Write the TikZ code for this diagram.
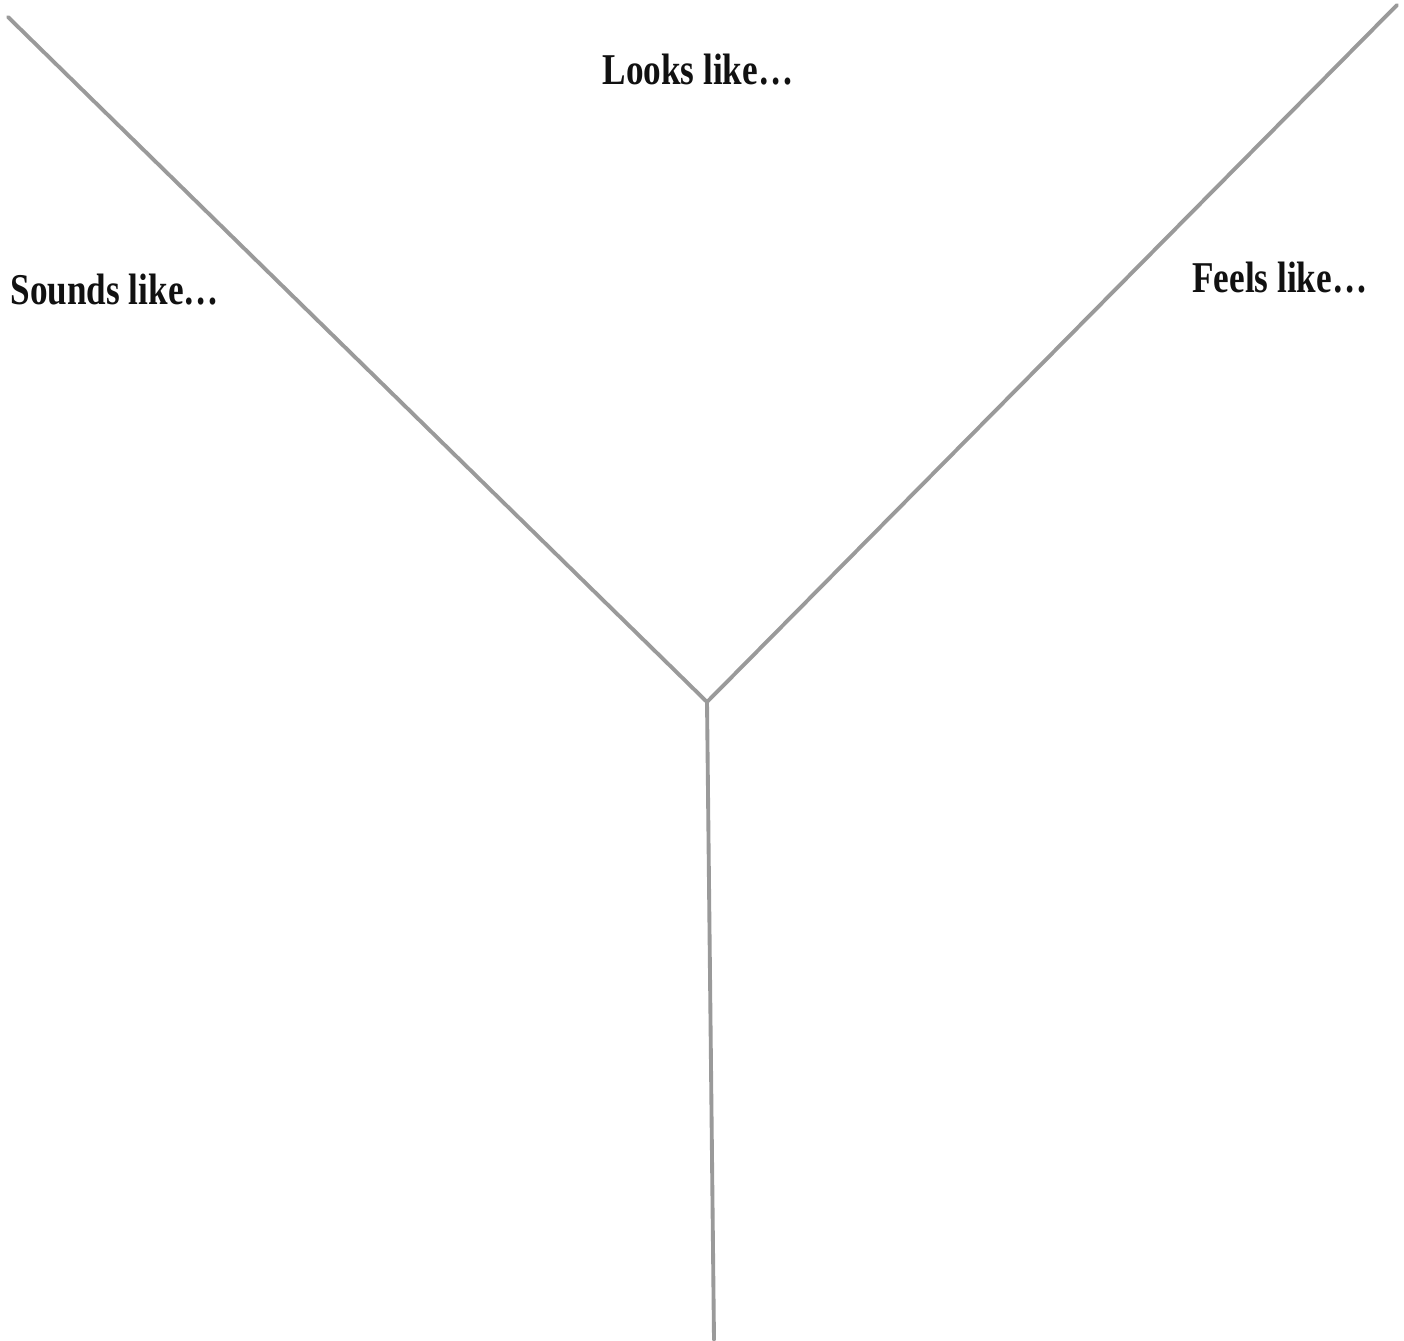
\documentclass[tikz,border=0pt]{standalone}
\usepackage{fontspec}
\setmainfont{Liberation Serif}
\newfontfamily\yfont[FakeStretch=0.8]{Liberation Serif}
\usepackage{tikz}
\usetikzlibrary{positioning, calc}
\definecolor{armcol}{HTML}{9A9A9A}
\definecolor{labelcol}{HTML}{111111}

\begin{document}
\begin{tikzpicture}[
  x=0.01cm, y=-0.01cm,
  arm/.style={draw=armcol, line width=1.1pt, line cap=round},
  lbl/.style={font=\yfont\fontsize{12.5}{15}\selectfont\bfseries, text=labelcol, inner sep=0pt},
]
  \useasboundingbox (0,0) rectangle (1404,1340);
  % the three arms of the Y
  \coordinate (hub) at (707,702);
  \coordinate (topleft) at (8,17);
  \coordinate (topright) at (1397,5);
  \coordinate (foot) at (714,1340);
  \draw[arm] (topleft) -- (hub);
  \draw[arm] (topright) -- (hub);
  \draw[arm] (hub) -- (foot);
  % labels
  \node[lbl] (looks) at (698,70) {Looks like\dots};
  \node[lbl, anchor=west] (sounds) at (10,290) {Sounds like\dots};
  \node[lbl, anchor=east] (feels) at (1368,278) {Feels like\dots};
\end{tikzpicture}
\end{document}
